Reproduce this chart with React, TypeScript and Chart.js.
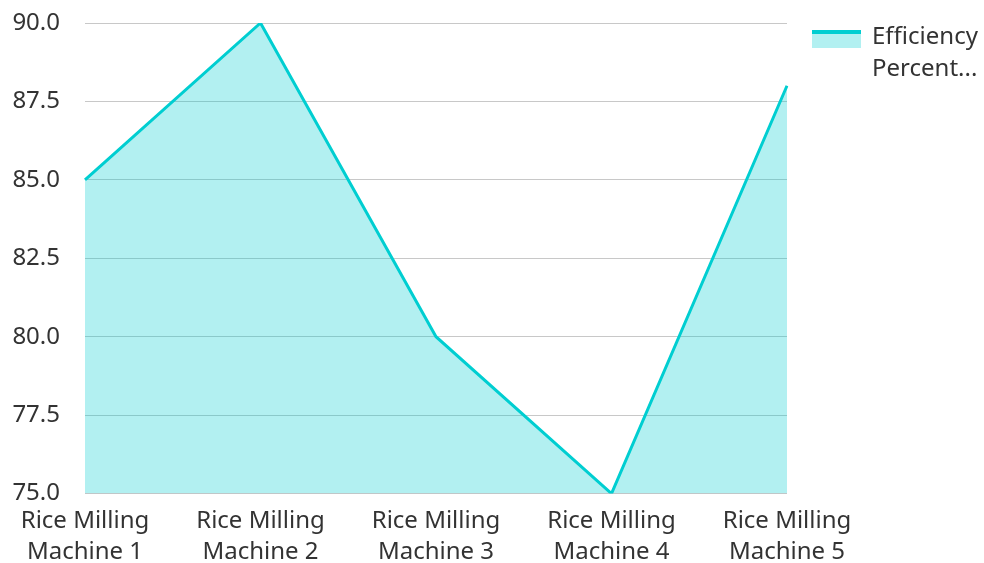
import React, { useEffect, useRef } from "react";
import { Chart, registerables } from "chart.js";

Chart.register(...registerables);

const categories: string[][] = [
  ["Rice Milling", "Machine 1"],
  ["Rice Milling", "Machine 2"],
  ["Rice Milling", "Machine 3"],
  ["Rice Milling", "Machine 4"],
  ["Rice Milling", "Machine 5"],
];
const efficiency: number[] = [85, 90, 80, 75, 88];
const seriesLabel = "Efficiency Percentage";
const legendLines: string[] = ["Efficiency", "Percent..."];

const LINE = "#00CED1";
const FILL = "rgba(0, 206, 209, 0.3)";
const FONT = "'Noto Sans', 'Open Sans', sans-serif";
const TEXT = "#333333";

const legendPlugin = {
  id: "customLegend",
  afterDraw(chart: any) {
    const ctx = chart.ctx;
    const x0 = chart.chartArea.right + 25;
    const y0 = 30;
    ctx.save();
    ctx.fillStyle = FILL;
    ctx.fillRect(x0, y0, 49, 18);
    ctx.fillStyle = LINE;
    ctx.fillRect(x0, y0, 49, 4);
    ctx.fillStyle = TEXT;
    ctx.font = `24px ${FONT}`;
    ctx.textBaseline = "middle";
    ctx.textAlign = "left";
    legendLines.forEach((t, i) => ctx.fillText(t, x0 + 60, 37 + i * 32));
    ctx.restore();
  },
};

export default function App() {
  const ref = useRef<HTMLCanvasElement>(null);
  useEffect(() => {
    document.body.style.margin = "0";
    const chart = new Chart(ref.current!, {
      type: "line",
      data: {
        labels: categories,
        datasets: [
          {
            label: seriesLabel,
            data: efficiency,
            borderColor: LINE,
            backgroundColor: FILL,
            borderWidth: 3,
            fill: "start",
            pointRadius: 0,
            tension: 0,
          },
        ],
      },
      options: {
        animation: false,
        responsive: false,
        layout: { padding: { right: 197, top: 23, bottom: -17, left: 0 } },
        plugins: { legend: { display: false }, tooltip: { enabled: false } },
        scales: {
          x: {
            offset: false,
            grid: { display: false, drawTicks: false },
            border: { display: false },
            ticks: {
              color: TEXT,
              font: { family: FONT, size: 24, lineHeight: 1.3 },
              padding: 12,
              maxRotation: 0,
              autoSkip: false,
            },
          },
          y: {
            min: 75,
            max: 90,
            grid: { color: "#c8c8c8", drawTicks: false, lineWidth: 1 },
            border: { display: false },
            afterFit: (s: any) => {
              s.width = 85;
              s.paddingTop = 0;
              s.paddingBottom = 0;
            },
            ticks: {
              stepSize: 2.5,
              color: TEXT,
              font: { family: FONT, size: 24 },
              padding: 25,
              callback: (v: any) => Number(v).toFixed(1),
            },
          },
        },
      },
      plugins: [legendPlugin],
    });
    return () => chart.destroy();
  }, []);
  return <canvas ref={ref} width={984} height={563} style={{ display: "block" }} />;
}
